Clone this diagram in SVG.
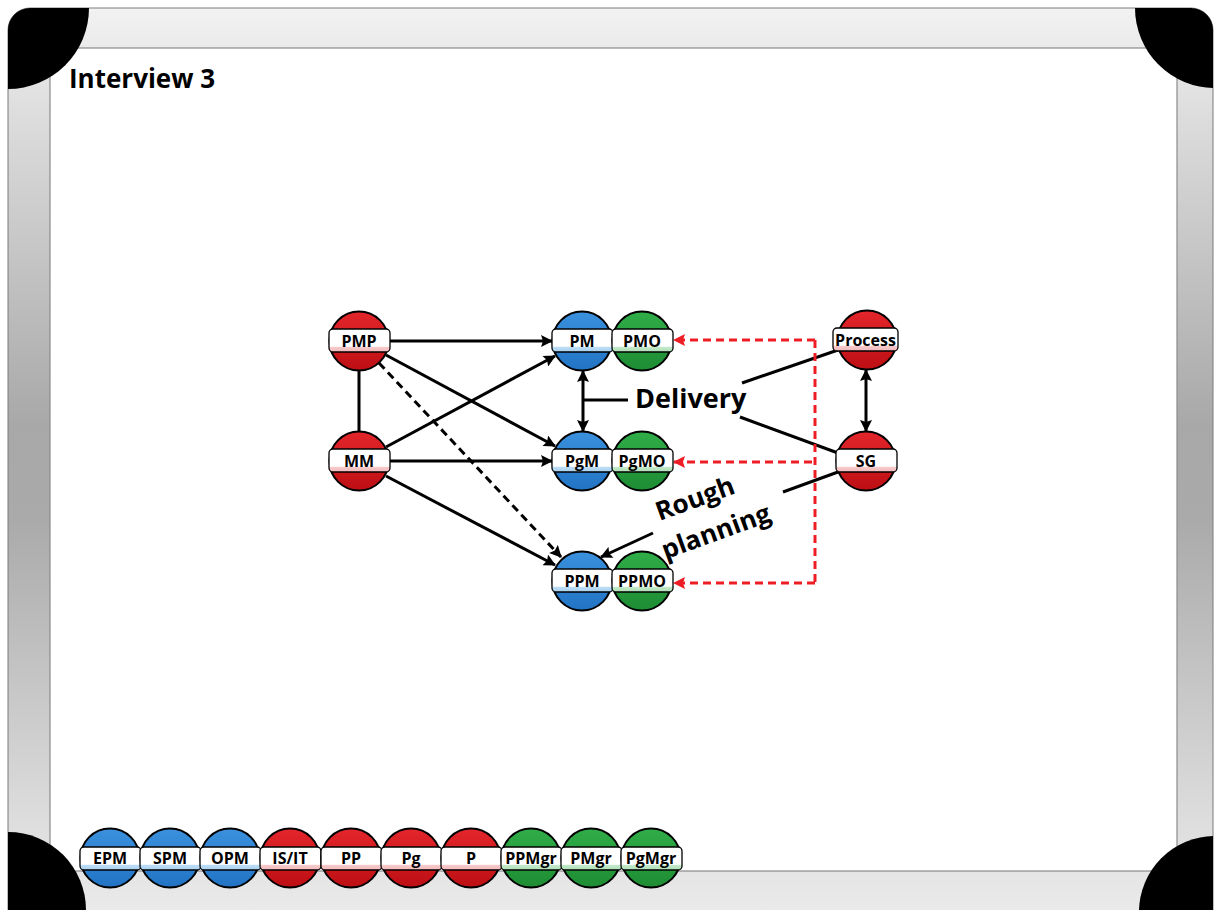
<svg xmlns="http://www.w3.org/2000/svg" width="1215" height="910" viewBox="0 0 1215 910">
  <defs>
    <style>
      .t { font-family: "Open Sans", "Noto Sans", "Liberation Sans", sans-serif; font-weight: bold; fill: #000; }
      .lbl { font-size: 16px; text-anchor: middle; }
      .ring { stroke: #000; stroke-width: 2; }
      .band { stroke: #000; stroke-width: 1.3; }
      .edge { stroke: #000; stroke-width: 3; fill: none; }
      .dashed { stroke-dasharray: 8 5; }
      .ref { stroke: #ee1c24; stroke-width: 3; fill: none; stroke-dasharray: 8 5; }
    </style>
    <linearGradient id="frameFill" x1="0" y1="0" x2="0" y2="1">
      <stop offset="0" stop-color="#f2f2f2"/>
      <stop offset="0.12" stop-color="#dcdcdc"/>
      <stop offset="0.45" stop-color="#a8a8a8"/>
      <stop offset="0.55" stop-color="#aaaaaa"/>
      <stop offset="0.88" stop-color="#dedede"/>
      <stop offset="1" stop-color="#eeeeee"/>
    </linearGradient>
    <linearGradient id="redFill" x1="0" y1="0" x2="0" y2="1">
      <stop offset="0" stop-color="#e3262b"/>
      <stop offset="1" stop-color="#bd0f14"/>
    </linearGradient>
    <linearGradient id="blueFill" x1="0" y1="0" x2="0" y2="1">
      <stop offset="0" stop-color="#3b91de"/>
      <stop offset="1" stop-color="#2273c4"/>
    </linearGradient>
    <linearGradient id="greenFill" x1="0" y1="0" x2="0" y2="1">
      <stop offset="0" stop-color="#30ad48"/>
      <stop offset="1" stop-color="#1e8c33"/>
    </linearGradient>
    <linearGradient id="redBand" x1="0" y1="0" x2="0" y2="1">
      <stop offset="0.75" stop-color="#ffffff"/>
      <stop offset="0.8" stop-color="#f6c9ca"/>
      <stop offset="1" stop-color="#f3b9bb"/>
    </linearGradient>
    <linearGradient id="blueBand" x1="0" y1="0" x2="0" y2="1">
      <stop offset="0.75" stop-color="#ffffff"/>
      <stop offset="0.8" stop-color="#bcdcf4"/>
      <stop offset="1" stop-color="#a9d1f1"/>
    </linearGradient>
    <linearGradient id="greenBand" x1="0" y1="0" x2="0" y2="1">
      <stop offset="0.75" stop-color="#ffffff"/>
      <stop offset="0.8" stop-color="#c3e8c9"/>
      <stop offset="1" stop-color="#aedfb6"/>
    </linearGradient>
    <clipPath id="frameClip">
      <rect x="8" y="8" width="1205" height="930" rx="22"/>
    </clipPath>
    <marker id="arrow" markerUnits="userSpaceOnUse" viewBox="0 0 12 12" markerWidth="13" markerHeight="12" refX="11" refY="6" orient="auto-start-reverse">
      <path d="M0,0 L12,6 L0,12 L2,6 z" fill="#000"/>
    </marker>
    <marker id="arrowRed" markerUnits="userSpaceOnUse" viewBox="0 0 12 12" markerWidth="13" markerHeight="12" refX="11" refY="6" orient="auto">
      <path d="M0,0 L12,6 L0,12 L2,6 z" fill="#ee1c24"/>
    </marker>
  </defs>

  <!-- whiteboard frame -->
  <g id="frame">
    <rect x="0" y="0" width="1215" height="910" fill="#ffffff"/>
    <rect x="8" y="8" width="1205" height="930" rx="22" fill="url(#frameFill)" stroke="#7a7a7a" stroke-width="1"/>
    <rect x="50" y="48" width="1127" height="823" fill="#ffffff" stroke="#8a8a8a" stroke-width="1.2"/>
    <g clip-path="url(#frameClip)" fill="#000">
      <circle cx="8" cy="8" r="81"/>
      <circle cx="1215" cy="8" r="80"/>
      <circle cx="8" cy="910" r="78"/>
      <circle cx="1215" cy="912" r="76"/>
    </g>
  </g>

  <text class="t" x="69" y="88" font-size="26">Interview 3</text>

  <!-- connectors -->
  <g id="connectors">
    <path class="edge" d="M389 341 H552" marker-end="url(#arrow)"/>
    <path class="edge" d="M389 461 H552" marker-end="url(#arrow)"/>
    <path class="edge" d="M386 355 L555 446" marker-end="url(#arrow)"/>
    <path class="edge" d="M386 447 L555 356" marker-end="url(#arrow)"/>
    <path class="edge dashed" d="M379 363 L561 557" marker-end="url(#arrow)"/>
    <path class="edge" d="M386 476 L555 565" marker-end="url(#arrow)"/>
    <path class="edge" d="M359 371 V431"/>
    <path class="edge" d="M583 371 V431" marker-start="url(#arrow)" marker-end="url(#arrow)"/>
    <path class="edge" d="M583 400 H628"/>
    <path class="edge" d="M866 370 V431" marker-start="url(#arrow)" marker-end="url(#arrow)"/>
    <path class="edge" d="M742 383 L838 350"/>
    <path class="edge" d="M740 417 L838 453"/>
    <path class="edge" d="M838 472 L783 492"/>
    <path class="edge" d="M653 533 L601 557" marker-end="url(#arrow)"/>
    <path class="ref" d="M815 340 H674" marker-end="url(#arrowRed)"/>
    <path class="ref" d="M815 340 V583"/>
    <path class="ref" d="M815 583 H674" marker-end="url(#arrowRed)"/>
    <path class="ref" d="M812 462 H674" marker-end="url(#arrowRed)"/>
  </g>

  <text class="t" x="635" y="408" font-size="27">Delivery</text>
  <g class="t" font-size="26" text-anchor="middle">
    <text transform="translate(698 507) rotate(-20)">Rough</text>
    <text transform="translate(719 540) rotate(-20)">planning</text>
  </g>

  <!-- diagram nodes -->
  <g id="node-PMP">
    <circle class="ring" cx="359" cy="341" r="29.5" fill="url(#redFill)"/>
    <rect class="band" x="329" y="329" width="61" height="23" rx="4" fill="url(#redBand)"/>
    <text class="t lbl" x="359" y="347">PMP</text>
  </g>
  <g id="node-MM">
    <circle class="ring" cx="359" cy="461" r="29.5" fill="url(#redFill)"/>
    <rect class="band" x="329" y="449" width="61" height="23" rx="4" fill="url(#redBand)"/>
    <text class="t lbl" x="359" y="467">MM</text>
  </g>
  <g id="node-PM">
    <circle class="ring" cx="582" cy="341" r="29.5" fill="url(#blueFill)"/>
    <rect class="band" x="552" y="329" width="61" height="23" rx="4" fill="url(#blueBand)"/>
    <text class="t lbl" x="582" y="347">PM</text>
  </g>
  <g id="node-PMO">
    <circle class="ring" cx="642" cy="341" r="29.5" fill="url(#greenFill)"/>
    <rect class="band" x="612" y="329" width="61" height="23" rx="4" fill="url(#greenBand)"/>
    <text class="t lbl" x="642" y="347">PMO</text>
  </g>
  <g id="node-PgM">
    <circle class="ring" cx="582" cy="461" r="29.5" fill="url(#blueFill)"/>
    <rect class="band" x="552" y="449" width="61" height="23" rx="4" fill="url(#blueBand)"/>
    <text class="t lbl" x="582" y="467">PgM</text>
  </g>
  <g id="node-PgMO">
    <circle class="ring" cx="642" cy="461" r="29.5" fill="url(#greenFill)"/>
    <rect class="band" x="612" y="449" width="61" height="23" rx="4" fill="url(#greenBand)"/>
    <text class="t lbl" x="642" y="467">PgMO</text>
  </g>
  <g id="node-PPM">
    <circle class="ring" cx="582" cy="581" r="29.5" fill="url(#blueFill)"/>
    <rect class="band" x="552" y="569" width="61" height="23" rx="4" fill="url(#blueBand)"/>
    <text class="t lbl" x="582" y="587">PPM</text>
  </g>
  <g id="node-PPMO">
    <circle class="ring" cx="642" cy="581" r="29.5" fill="url(#greenFill)"/>
    <rect class="band" x="612" y="569" width="61" height="23" rx="4" fill="url(#greenBand)"/>
    <text class="t lbl" x="642" y="587">PPMO</text>
  </g>
  <g id="node-Process">
    <circle class="ring" cx="867" cy="340" r="29.5" fill="url(#redFill)"/>
    <rect class="band" x="833" y="328" width="65" height="23" rx="4" fill="url(#redBand)"/>
    <text class="t lbl" x="865.5" y="346" font-size="15.5">Process</text>
  </g>
  <g id="node-SG">
    <circle class="ring" cx="866" cy="461" r="29.5" fill="url(#redFill)"/>
    <rect class="band" x="836" y="449" width="61" height="23" rx="4" fill="url(#redBand)"/>
    <text class="t lbl" x="866" y="467">SG</text>
  </g>

  <!-- legend row -->
  <g id="legend">
    <g id="legend-EPM">
      <circle class="ring" cx="110" cy="858" r="29.5" fill="url(#blueFill)"/>
      <rect class="band" x="80" y="847" width="61" height="23" rx="4" fill="url(#blueBand)"/>
      <text class="t lbl" x="110" y="864">EPM</text>
    </g>
    <g id="legend-SPM">
      <circle class="ring" cx="170" cy="858" r="29.5" fill="url(#blueFill)"/>
      <rect class="band" x="140" y="847" width="61" height="23" rx="4" fill="url(#blueBand)"/>
      <text class="t lbl" x="170" y="864">SPM</text>
    </g>
    <g id="legend-OPM">
      <circle class="ring" cx="230" cy="858" r="29.5" fill="url(#blueFill)"/>
      <rect class="band" x="200" y="847" width="61" height="23" rx="4" fill="url(#blueBand)"/>
      <text class="t lbl" x="230" y="864">OPM</text>
    </g>
    <g id="legend-ISIT">
      <circle class="ring" cx="290" cy="858" r="29.5" fill="url(#redFill)"/>
      <rect class="band" x="260" y="847" width="61" height="23" rx="4" fill="url(#redBand)"/>
      <text class="t lbl" x="290" y="864">IS/IT</text>
    </g>
    <g id="legend-PP">
      <circle class="ring" cx="351" cy="858" r="29.5" fill="url(#redFill)"/>
      <rect class="band" x="321" y="847" width="61" height="23" rx="4" fill="url(#redBand)"/>
      <text class="t lbl" x="351" y="864">PP</text>
    </g>
    <g id="legend-Pg">
      <circle class="ring" cx="411" cy="858" r="29.5" fill="url(#redFill)"/>
      <rect class="band" x="381" y="847" width="61" height="23" rx="4" fill="url(#redBand)"/>
      <text class="t lbl" x="411" y="864">Pg</text>
    </g>
    <g id="legend-P">
      <circle class="ring" cx="471" cy="858" r="29.5" fill="url(#redFill)"/>
      <rect class="band" x="441" y="847" width="61" height="23" rx="4" fill="url(#redBand)"/>
      <text class="t lbl" x="471" y="864">P</text>
    </g>
    <g id="legend-PPMgr">
      <circle class="ring" cx="531" cy="858" r="29.5" fill="url(#greenFill)"/>
      <rect class="band" x="501" y="847" width="61" height="23" rx="4" fill="url(#greenBand)"/>
      <text class="t lbl" x="531" y="864">PPMgr</text>
    </g>
    <g id="legend-PMgr">
      <circle class="ring" cx="591" cy="858" r="29.5" fill="url(#greenFill)"/>
      <rect class="band" x="561" y="847" width="61" height="23" rx="4" fill="url(#greenBand)"/>
      <text class="t lbl" x="591" y="864">PMgr</text>
    </g>
    <g id="legend-PgMgr">
      <circle class="ring" cx="651" cy="858" r="29.5" fill="url(#greenFill)"/>
      <rect class="band" x="621" y="847" width="61" height="23" rx="4" fill="url(#greenBand)"/>
      <text class="t lbl" x="651" y="864">PgMgr</text>
    </g>
  </g>
</svg>
